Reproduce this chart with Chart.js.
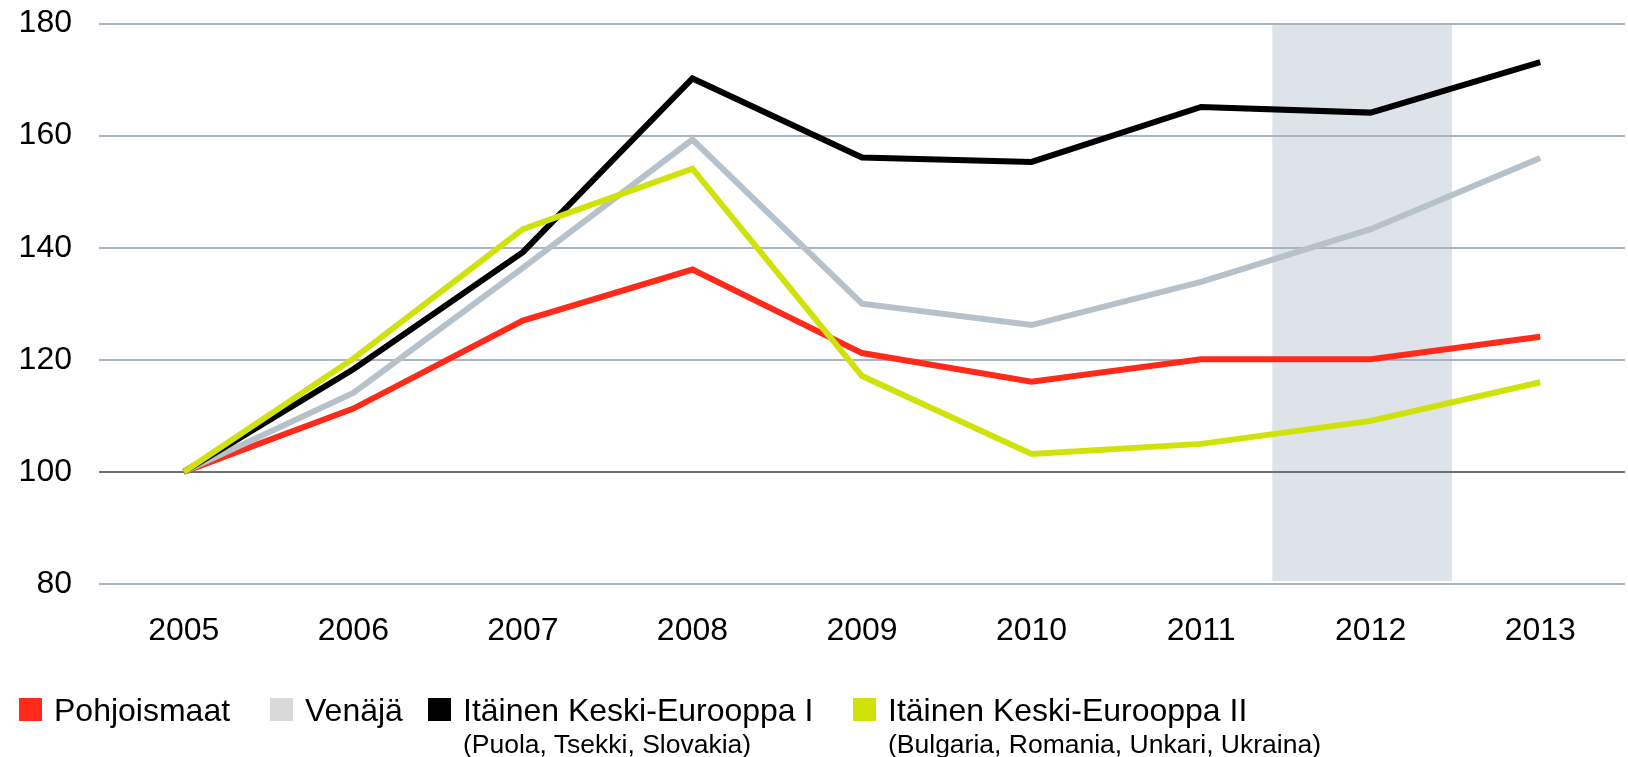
<!DOCTYPE html>
<html>
<head>
<meta charset="utf-8">
<script src="https://cdn.jsdelivr.net/npm/chart.js@4"></script>
<style>
    html, body { margin: 0; padding: 0; background: #fff; }
    #wrap { position: relative; width: 1628px; height: 757px; }
    #chart { display: block; }
    #legend { position: absolute; left: 0; top: 0; font-family: "Liberation Sans", Arial, sans-serif; color: #000; }
    .item { position: absolute; top: 692px; white-space: nowrap; }
    .box { position: absolute; top: 6px; width: 23px; height: 23px; }
    .lbl { position: absolute; left: 35px; top: 0; font-size: 32px; line-height: 36px; }
    .sub { position: absolute; left: 35px; top: 37px; font-size: 26.5px; line-height: 30px; }
</style>
</head>
<body>
<div id="wrap">
    <canvas id="chart" width="1628" height="757"></canvas>
    <div id="legend"></div>
</div>
<script>
const years = ["2005", "2006", "2007", "2008", "2009", "2010", "2011", "2012", "2013"];
const pohjoismaat = [100, 111.3, 127.0, 136.1, 121.2, 116.1, 120.1, 120.1, 124.1];
const venaja = [100, 114.1, 136.4, 159.3, 130.0, 126.2, 133.9, 143.3, 156.0];
const keskiEurooppa1 = [100, 118.3, 139.2, 170.2, 156.1, 155.3, 165.1, 164.1, 173.1];
const keskiEurooppa2 = [100, 120.2, 143.3, 154.1, 117.1, 103.2, 105.0, 109.1, 116.0];
const yTicks = [80, 100, 120, 140, 160, 180];
// ennustejakso (varjostus) kategoria-indekseinä
const shadeRange = [6.42, 7.48];

const series = [
    { label: "Pohjoismaat", sub: "", data: pohjoismaat, color: "#ff2a1a", legendColor: "#ff2a1a", order: 3 },
    { label: "Venäjä", sub: "", data: venaja, color: "#b6c1ca", legendColor: "#d9d9d9", order: 2 },
    { label: "Itäinen Keski-Eurooppa I", sub: "(Puola, Tsekki, Slovakia)", data: keskiEurooppa1, color: "#000000", legendColor: "#000000", order: 1 },
    { label: "Itäinen Keski-Eurooppa II", sub: "(Bulgaria, Romania, Unkari, Ukraina)", data: keskiEurooppa2, color: "#cfe30a", legendColor: "#cfe30a", order: 0 }
];

const legendX = [19, 270, 428, 853];
// tavoiteltu piirtoalue (px)
const target = { top: 23.5, bottom: 584 };

const shadePlugin = {
    id: "shade",
    beforeDraw(chart) {
        const x = chart.scales.x, y = chart.scales.y;
        const ctx = chart.ctx;
        const left = x.getPixelForValue(shadeRange[0]);
        const right = x.getPixelForValue(shadeRange[1]);
        const top = y.getPixelForValue(180);
        const bottom = y.getPixelForValue(80.5);
        ctx.save();
        ctx.fillStyle = "#dee3ea";
        ctx.fillRect(left, top, right - left, bottom - top);
        ctx.restore();
    }
};

Chart.defaults.font.family = '"Liberation Sans", Arial, sans-serif';
Chart.defaults.color = "#000";

const chart = new Chart(document.getElementById("chart").getContext("2d"), {
    type: "line",
    data: {
        labels: years,
        datasets: series.map(s => ({
            label: s.label,
            data: s.data,
            borderColor: s.color,
            backgroundColor: s.color,
            borderWidth: 6,
            pointRadius: 0,
            tension: 0,
            order: s.order
        }))
    },
    options: {
        responsive: false,
        animation: false,
        layout: { padding: { left: 18, right: 1, top: 6, bottom: 108 } },
        plugins: { legend: { display: false }, tooltip: { enabled: false } },
        scales: {
            x: {
                offset: true,
                grid: { display: false, drawTicks: false },
                border: { display: false },
                ticks: { padding: 28, font: { size: 32 }, maxRotation: 0 }
            },
            y: {
                min: 80,
                max: 180,
                afterBuildTicks: axis => { axis.ticks = yTicks.map(v => ({ value: v })); },
                grid: {
                    drawTicks: false,
                    lineWidth: 2,
                    color: c => (c.tick && c.tick.value === 100) ? "#6d7279" : "#a9b5c1"
                },
                border: { display: false },
                ticks: { padding: 27, font: { size: 32 } },
                afterFit: axis => { axis.width = 81; axis.paddingTop = 0; axis.paddingBottom = 0; }
            }
        }
    },
    plugins: [shadePlugin]
});

// säädetään reunukset niin, että piirtoalue osuu kohdalleen
const pad = chart.options.layout.padding;
pad.top = Math.max(0, pad.top + target.top - chart.chartArea.top);
pad.bottom += chart.chartArea.bottom - target.bottom;
chart.update();

const legend = document.getElementById("legend");
series.forEach((s, i) => {
    const item = document.createElement("div");
    item.className = "item";
    item.style.left = legendX[i] + "px";
    item.innerHTML = `<div class="box" style="background:${s.legendColor}"></div>
        <div class="lbl">${s.label}</div>` + (s.sub ? `<div class="sub">${s.sub}</div>` : "");
    legend.appendChild(item);
});
</script>
</body>
</html>
